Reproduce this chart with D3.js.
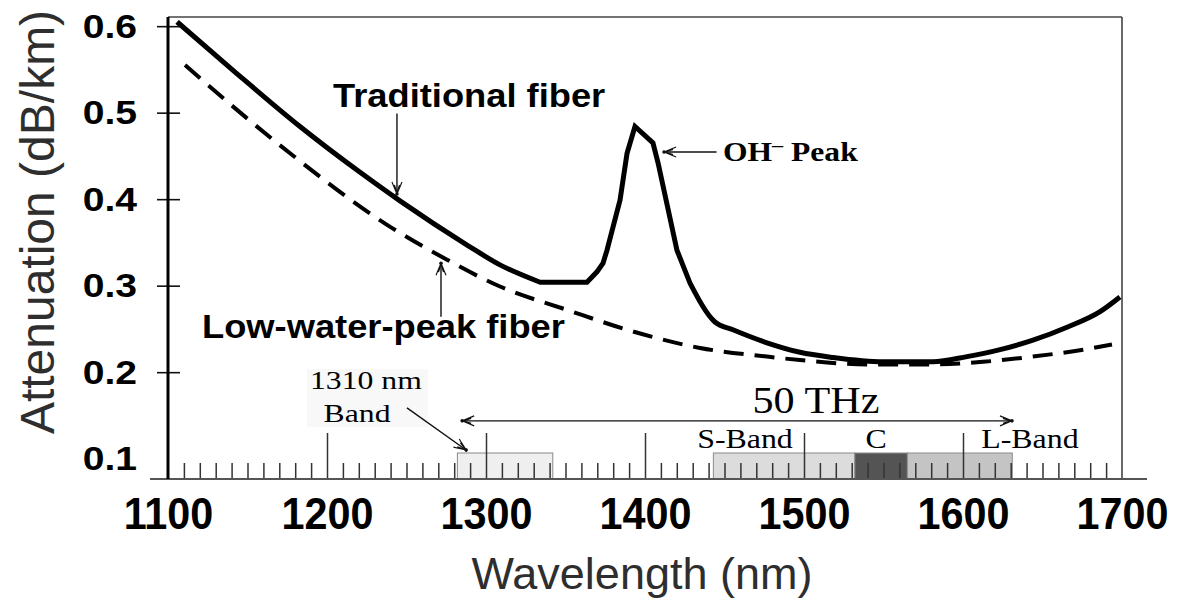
<!DOCTYPE html>
<html>
<head>
<meta charset="utf-8">
<script src="https://d3js.org/d3.v7.min.js"></script>
<style>
    body { margin: 0; background: #fff; }
</style>
</head>
<body>
<svg id="drawing_region"></svg>
<script>
// traditional fiber (solid line)
const trad_wl  = [1105.7, 1140.9, 1183.0, 1220.8, 1245.9, 1288.1, 1308.8, 1334.0, 1363.5, 1369.8,
                  1373.6, 1376.1, 1384.3, 1388.7, 1393.7, 1405.0, 1408.2, 1420.1, 1428.3, 1444.0,
                  1455.3, 1476.7, 1497.5, 1518.2, 1549.7, 1581.1, 1602.5, 1623.3, 1644.0, 1665.4,
                  1686.2, 1698.7];
const trad_att = [0.605, 0.549, 0.484, 0.431, 0.398, 0.347, 0.324, 0.304, 0.304, 0.316,
                  0.326, 0.341, 0.399, 0.453, 0.484, 0.465, 0.442, 0.341, 0.303, 0.258,
                  0.249, 0.234, 0.223, 0.217, 0.212, 0.212, 0.218, 0.226, 0.237, 0.252,
                  0.270, 0.287];

// low-water-peak fiber (dashed line)
const lwp_wl  = [1110.7, 1168.6, 1241.5, 1275.5, 1308.8, 1351.0, 1392.5, 1434.6, 1476.7, 1497.5,
                 1539.6, 1581.0, 1612.6, 1644.0, 1675.5, 1693.7];
const lwp_att = [0.555, 0.465, 0.366, 0.330, 0.299, 0.272, 0.247, 0.228, 0.218, 0.214,
                 0.209, 0.209, 0.212, 0.218, 0.226, 0.232];

// axes
const x_ticks = [1100, 1200, 1300, 1400, 1500, 1600, 1700];
const x_major = [1200, 1300, 1400, 1500, 1600];
const x_minor = d3.range(1110, 1700, 10).filter(d => d % 100 != 0);
const y_ticks = [0.1, 0.2, 0.3, 0.4, 0.5, 0.6];
const y_marks = [0.2, 0.3, 0.4, 0.5, 0.6];

// transmission bands (nm)
const band_names = ['1310', 'S', 'C', 'L'];
const band_start = [1282, 1443, 1532, 1565];
const band_end   = [1342, 1532, 1565, 1631];

const SANS = '"Liberation Sans", Arial, sans-serif';
const SERIF = '"Liberation Serif", "Times New Roman", serif';

var config = {
    parent: '#drawing_region',
    width: 1188,
    height: 600,
    margin: {top:17, right:66, bottom:121, left:168}
};

class AttenuationChart {

    constructor( config ) {
        this.config = config;
        this.trad = trad_wl.map( (w,i) => ({wl:w, att:trad_att[i]}) );
        this.lwp = lwp_wl.map( (w,i) => ({wl:w, att:lwp_att[i]}) );
        this.bands = band_names.map( (n,i) => ({name:n, from:band_start[i], to:band_end[i]}) );
        this.init();
    }

    init() {
        let self = this;

        self.svg = d3.select( self.config.parent )
            .attr('width', self.config.width)
            .attr('height', self.config.height);

        self.chart = self.svg.append('g')
            .attr('transform', `translate(${self.config.margin.left}, ${self.config.margin.top})`);

        self.inner_width = self.config.width - self.config.margin.left - self.config.margin.right;
        self.inner_height = self.config.height - self.config.margin.top - self.config.margin.bottom;

        self.xscale = d3.scaleLinear()
            .domain( [1100, 1700] )
            .range( [0, self.inner_width] );

        self.yscale = d3.scaleLinear()
            .domain( [0.0765, 0.6106] )
            .range( [self.inner_height, 0] );

        self.smooth = d3.line()
            .x( d => self.xscale(d.wl) )
            .y( d => self.yscale(d.att) )
            .curve( d3.curveMonotoneX );

        self.line = d3.line()
            .x( d => self.xscale(d.wl) )
            .y( d => self.yscale(d.att) );

        let marker = self.svg.append('defs').append('marker')
            .attr('id', 'arrow')
            .attr('viewBox', '-14 -7 16 14')
            .attr('refX', 0).attr('refY', 0)
            .attr('markerWidth', 16).attr('markerHeight', 14)
            .attr('markerUnits', 'userSpaceOnUse')
            .attr('orient', 'auto-start-reverse');
        marker.append('path')
            .attr('d', 'M-12,-5L0,0L-12,5M-9,-2.5L-1,0L-9,2.5')
            .attr('fill', 'none')
            .attr('stroke', '#111')
            .attr('stroke-width', 1.1);
        marker.append('circle')
            .attr('r', 1.8)
            .attr('fill', '#111');
    }

    // text with a horizontal stretch
    label( str, x, y, font, sx, anchor ) {
        return this.chart.append('text')
            .attr('transform', `translate(${x}, ${y}) scale(${sx}, 1)`)
            .attr('text-anchor', anchor || 'start')
            .style('font', font)
            .attr('fill', '#000')
            .text( str );
    }

    arrow( x1, y1, x2, y2, both ) {
        let self = this;
        let a = self.chart.append('line')
            .attr('x1', self.xscale(x1)).attr('y1', self.yscale(y1))
            .attr('x2', self.xscale(x2)).attr('y2', self.yscale(y2))
            .attr('stroke', '#111')
            .attr('stroke-width', 1.4)
            .attr('marker-end', 'url(#arrow)');
        if (both) a.attr('marker-start', 'url(#arrow)');
    }

    render() {
        let self = this;
        const H = self.inner_height;
        const xs = self.xscale, ys = self.yscale;

        // faint background box of "1310 nm Band"
        self.chart.append('rect')
            .attr('x', xs(1224.5) - 59).attr('y', ys(0.1806) - 20)
            .attr('width', 121).attr('height', 58)
            .attr('fill', '#f8f8f8');

        // bands
        const band_fill = {'1310':'#efefef', 'S':'#dcdcdc', 'C':'#545454', 'L':'#c4c4c4'};
        self.chart.selectAll('rect.band')
            .data(self.bands)
            .enter()
            .append('rect')
            .attr('class', 'band')
            .attr('x', d => xs(d.from))
            .attr('y', H - 26)
            .attr('width', d => xs(d.to) - xs(d.from))
            .attr('height', 26)
            .attr('fill', d => band_fill[d.name])
            .attr('stroke', '#8a8a8a')
            .attr('stroke-width', 1);

        // inner ticks on the wavelength axis
        let minor = self.chart.append('g')
            .attr('transform', `translate(0, ${H})`)
            .call( d3.axisBottom(xs).tickValues(x_minor).tickSize(-16).tickFormat('') );
        let major = self.chart.append('g')
            .attr('transform', `translate(0, ${H})`)
            .call( d3.axisBottom(xs).tickValues(x_major).tickSize(-46).tickFormat('') );
        [minor, major].forEach( g => {
            g.select('.domain').remove();
            g.selectAll('line').attr('stroke', '#333').attr('stroke-width', 1.5);
        });

        // x tick labels
        let xlab = self.chart.append('g')
            .attr('transform', `translate(0, ${H})`)
            .call( d3.axisBottom(xs).tickValues(x_ticks).tickSize(0).tickPadding(19).tickFormat(d3.format('d')) );
        xlab.select('.domain').remove();
        xlab.selectAll('text')
            .attr('transform', 'scale(0.94, 1)')
            .style('font', `bold 44px ${SANS}`)
            .attr('fill', '#000');

        // y tick labels and marks
        let ylab = self.chart.append('g')
            .call( d3.axisLeft(ys).tickValues(y_ticks).tickSize(0).tickPadding(31).tickFormat(d3.format('.1f')) );
        ylab.select('.domain').remove();
        ylab.selectAll('text')
            .attr('x', -31 / 1.15)
            .attr('transform', 'scale(1.15, 1)')
            .style('font', `bold 34px ${SANS}`)
            .attr('fill', '#000');

        let ymark = self.chart.append('g')
            .call( d3.axisLeft(ys).tickValues(y_marks).tickSize(11).tickFormat('') );
        ymark.select('.domain').remove();
        ymark.selectAll('line').attr('x1', 12).attr('stroke', '#111').attr('stroke-width', 1.6);

        // frame
        self.chart.append('line')
            .attr('x1', 0).attr('y1', 0).attr('x2', self.inner_width).attr('y2', 0)
            .attr('stroke', '#444').attr('stroke-width', 1.6);
        self.chart.append('line')
            .attr('x1', self.inner_width).attr('y1', 0).attr('x2', self.inner_width).attr('y2', H)
            .attr('stroke', '#444').attr('stroke-width', 1.6);
        self.chart.append('line')
            .attr('x1', -18).attr('y1', H).attr('x2', self.inner_width + 25).attr('y2', H)
            .attr('stroke', '#555').attr('stroke-width', 2.2);
        self.chart.append('line')
            .attr('x1', 0).attr('y1', 0).attr('x2', 0).attr('y2', H)
            .attr('stroke', '#000').attr('stroke-width', 3);

        // curves
        self.chart.append('path')
            .attr('d', self.smooth(self.lwp))
            .attr('stroke', '#000')
            .attr('stroke-width', 4)
            .attr('stroke-dasharray', '20,11')
            .attr('fill', 'none');

        // smooth flanks, straight segments around the OH peak
        const a = self.smooth(self.trad.slice(0, 8));
        const b = self.line(self.trad.slice(7, 19));
        const c = self.smooth(self.trad.slice(18));
        self.chart.append('path')
            .attr('d', a + b.replace(/^M/, 'L') + c.replace(/^M/, 'L'))
            .attr('stroke', '#000')
            .attr('stroke-width', 5)
            .attr('stroke-linejoin', 'miter')
            .attr('fill', 'none');

        // annotations
        self.label('Traditional fiber', xs(1203.8), ys(0.5066), `bold 33px ${SANS}`, 1.1);
        self.arrow(1244, 0.499, 1244, 0.406);

        self.label('Low-water-peak fiber', xs(1121.4), ys(0.2395), `bold 33px ${SANS}`, 1.1);
        self.arrow(1271.7, 0.264, 1271.7, 0.326);

        let oh = self.label('OH', xs(1449), ys(0.4442), `bold 27px ${SERIF}`, 1.17);
        oh.append('tspan').attr('dy', -10).style('font-size', '19px').text('\u2013');
        oh.append('tspan').attr('dy', 10).text(' Peak');
        self.arrow(1445, 0.4545, 1412, 0.4545);

        self.label('1310 nm', xs(1224.5), ys(0.1806), `26px ${SERIF}`, 1.22, 'middle');
        self.label('Band', xs(1218.9), ys(0.1424), `26px ${SERIF}`, 1.22, 'middle');
        self.arrow(1250.3, 0.1587, 1287.5, 0.1100);

        self.label('50 THz', xs(1507.5), ys(0.1529), `38px ${SERIF}`, 1.11, 'middle');
        self.arrow(1285, 0.1437, 1630.8, 0.1437, true);

        self.label('S-Band', xs(1462.9), ys(0.1124), `27px ${SERIF}`, 1.18, 'middle');
        self.label('C', xs(1545.3), ys(0.1124), `27px ${SERIF}`, 1.18, 'middle');
        self.label('L-Band', xs(1642.1), ys(0.1124), `27px ${SERIF}`, 1.18, 'middle');

        // axis titles
        self.svg.append('text')
            .attr('transform', 'translate(54, 222) rotate(-90)')
            .attr('text-anchor', 'middle')
            .style('font', `48px ${SANS}`)
            .attr('fill', '#2e2e2e')
            .text('Attenuation (dB/km)');

        self.svg.append('text')
            .attr('x', 642)
            .attr('y', 589)
            .attr('text-anchor', 'middle')
            .style('font', `45px ${SANS}`)
            .attr('fill', '#2e2e2e')
            .text('Wavelength (nm)');
    }
}

const chart = new AttenuationChart( config );
chart.render();
</script>
</body>
</html>
